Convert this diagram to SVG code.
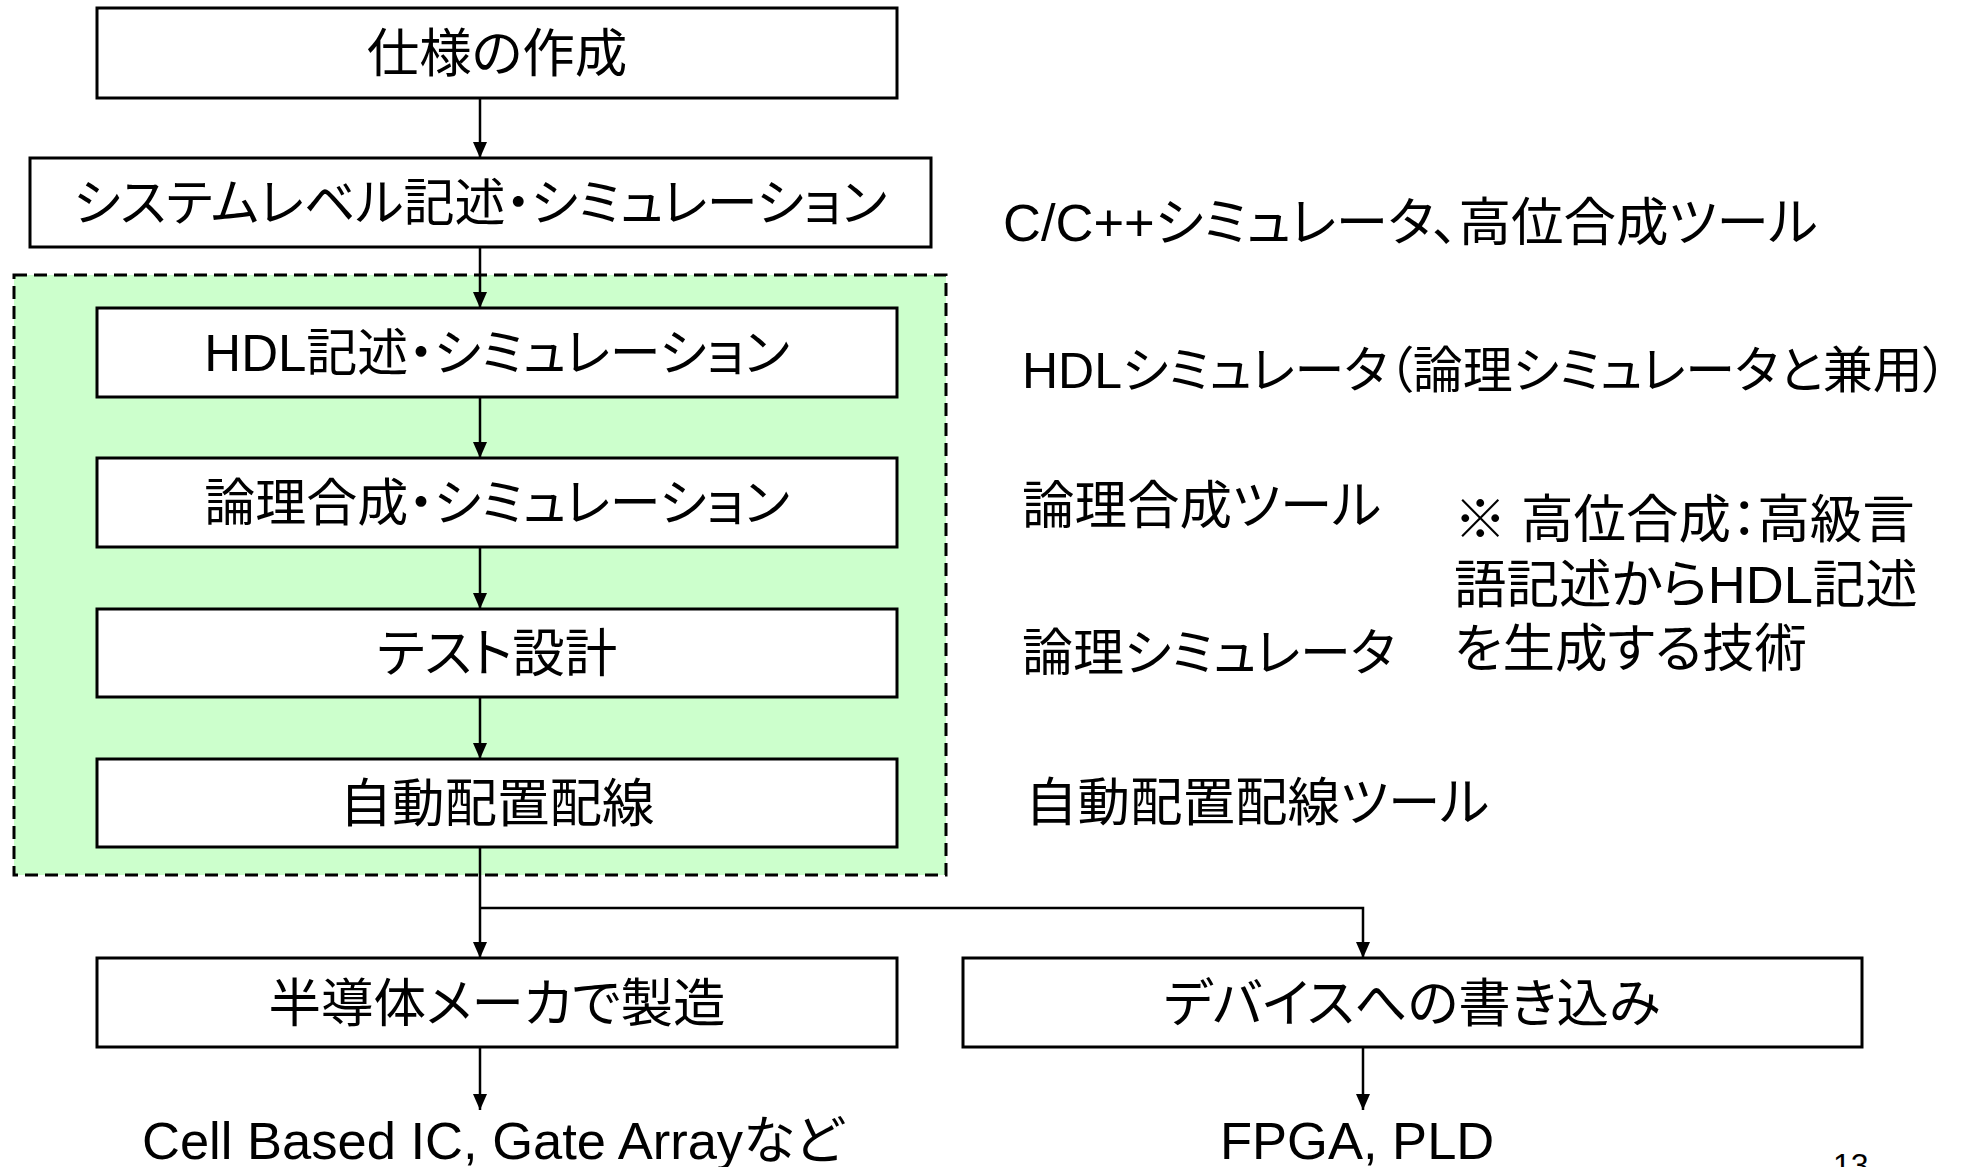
<svg xmlns="http://www.w3.org/2000/svg" width="1966" height="1167" viewBox="0 0 1966 1167">
<style>
  text { font-family: "Liberation Sans", "Noto Sans CJK JP", sans-serif; font-size: 52.5px; fill: #000; font-feature-settings: "palt"; }
  .c { text-anchor: middle; dominant-baseline: central; }
  .l { text-anchor: start; dominant-baseline: central; }
  .s { font-size: 51px; }
  .box { fill: #fff; stroke: #000; stroke-width: 3; }
  .conn line, .conn path { stroke: #000; stroke-width: 2.5; fill: none; }
</style>
<defs>
  <marker id="arr" markerUnits="userSpaceOnUse" markerWidth="16" markerHeight="14" refX="16" refY="7" orient="auto">
    <path d="M0,0 L16,7 L0,14 z" fill="#000"/>
  </marker>
</defs>
<rect width="1966" height="1167" fill="#fff"/>
<g id="region">
  <rect x="14" y="275" width="932" height="600" fill="#CCFFCC" stroke="#000" stroke-width="3" stroke-dasharray="13 7"/>
</g>
<g class="conn" id="connectors">
  <line x1="480" y1="98" x2="480" y2="158" marker-end="url(#arr)"/>
  <line x1="480" y1="247" x2="480" y2="308" marker-end="url(#arr)"/>
  <line x1="480" y1="397" x2="480" y2="458" marker-end="url(#arr)"/>
  <line x1="480" y1="547" x2="480" y2="609" marker-end="url(#arr)"/>
  <line x1="480" y1="697" x2="480" y2="759" marker-end="url(#arr)"/>
  <line x1="480" y1="847" x2="480" y2="958" marker-end="url(#arr)"/>
  <path d="M480,908 L1363,908 L1363,958" marker-end="url(#arr)"/>
  <line x1="480" y1="1047" x2="480" y2="1110" marker-end="url(#arr)"/>
  <line x1="1363" y1="1047" x2="1363" y2="1110" marker-end="url(#arr)"/>
</g>
<g id="n1"><rect class="box" x="97" y="8" width="800" height="90"/><text class="c" x="497" y="53">仕様の作成</text></g>
<g id="n2"><rect class="box" x="30" y="158" width="901" height="89"/><text class="c s" x="480" y="203">システムレベル記述・シミュレーション</text></g>
<g id="n3"><rect class="box" x="97" y="308" width="800" height="89"/><text class="c s" x="497" y="353">HDL記述・シミュレーション</text></g>
<g id="n4"><rect class="box" x="97" y="458" width="800" height="89"/><text class="c s" x="497" y="503">論理合成・シミュレーション</text></g>
<g id="n5"><rect class="box" x="97" y="609" width="800" height="88"/><text class="c" x="497" y="653">テスト設計</text></g>
<g id="n6"><rect class="box" x="97" y="759" width="800" height="88"/><text class="c" x="497" y="803">自動配置配線</text></g>
<g id="n7"><rect class="box" x="97" y="958" width="800" height="89"/><text class="c" x="497" y="1003">半導体メーカで製造</text></g>
<g id="n8"><rect class="box" x="963" y="958" width="899" height="89"/><text class="c" x="1412" y="1003">デバイスへの書き込み</text></g>
<g id="labels">
  <text class="l" x="1003" y="222">C/C++シミュレータ、高位合成ツール</text>
  <text class="l" x="1022" y="371" style="font-size:50px">HDLシミュレータ（論理シミュレータと兼用）</text>
  <text class="l" x="1022" y="505">論理合成ツール</text>
  <text class="l s" x="1022" y="653">論理シミュレータ</text>
  <text class="l" x="1025" y="802">自動配置配線ツール</text>
  <text class="l" x="1454" y="519">※ 高位合成：高級言</text>
  <text class="l" x="1454" y="584">語記述からHDL記述</text>
  <text class="l" x="1454" y="648">を生成する技術</text>
  <text class="l" x="142" y="1140">Cell Based IC, Gate Arrayなど</text>
  <text class="l" x="1220" y="1140">FPGA, PLD</text>
  <text x="1833" y="1176" style="font-size:32px">13</text>
</g>
</svg>
